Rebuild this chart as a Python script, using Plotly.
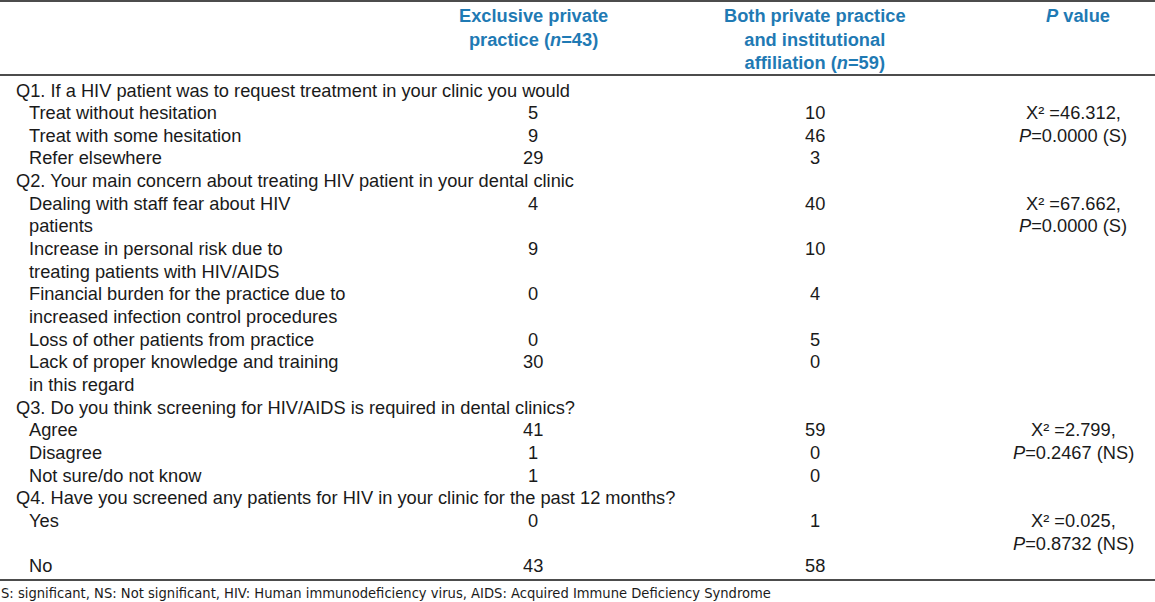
import plotly.graph_objects as go

# ---------------- data ----------------
col_headers = ["", "<b>Exclusive private<br>practice (<i>n</i>=43)</b>",
               "<b>Both private practice<br>and institutional<br>affiliation (<i>n</i>=59)</b>",
               "<b><i>P</i> value</b>"]

questions = [
    "Q1. If a HIV patient was to request treatment in your clinic you would",
    "Q2. Your main concern about treating HIV patient in your dental clinic",
    "Q3. Do you think screening for HIV/AIDS is required in dental clinics?",
    "Q4. Have you screened any patients for HIV in your clinic for the past 12 months?",
]

q1_items = ["Treat without hesitation", "Treat with some hesitation", "Refer elsewhere"]
q1_excl = [5, 9, 29]
q1_both = [10, 46, 3]

q2_items = ["Dealing with staff fear about HIV<br>patients",
            "Increase in personal risk due to<br>treating patients with HIV/AIDS",
            "Financial burden for the practice due to<br>increased infection control procedures",
            "Loss of other patients from practice",
            "Lack of proper knowledge and training<br>in this regard"]
q2_excl = [4, 9, 0, 0, 30]
q2_both = [40, 10, 4, 5, 0]

q3_items = ["Agree", "Disagree", "Not sure/do not know"]
q3_excl = [41, 1, 1]
q3_both = [59, 0, 0]

q4_items = ["Yes", "No"]
q4_excl = [0, 43]
q4_both = [1, 58]

p_values = [
    ["X² =46.312,", "<i>P</i>=0.0000 (S)"],
    ["X² =67.662,", "<i>P</i>=0.0000 (S)"],
    ["X² =2.799,", "<i>P</i>=0.2467 (NS)"],
    ["X² =0.025,", "<i>P</i>=0.8732 (NS)"],
]
p_spans_rows = [True, False, True, False]

footnote = "S: significant, NS: Not significant, HIV: Human immunodeficiency virus, AIDS: Acquired Immune Deficiency Syndrome"

sections = [
    (q1_items, q1_excl, q1_both),
    (q2_items, q2_excl, q2_both),
    (q3_items, q3_excl, q3_both),
    (q4_items, q4_excl, q4_both),
]

# ---------------- layout params ----------------
W, H = 1155, 602
FONT = "Liberation Sans, Arial, sans-serif"
TXT = "#1a1a1a"
BLUE = "#1f7ab4"
FS = 18.25
LINE_H = 22.65
BODY_TOP = 90
X_Q = 15
X_ITEM = 28
X_C1 = 533
X_C2 = 815
X_C3 = 1073
X_HDR = [533, 815, 1078]

annotations = []


def add(text, x, y, xanchor="center", color=TXT, size=FS, family=FONT, yanchor="middle"):
    annotations.append(dict(text=text, x=x, y=y, xref="x", yref="y", xanchor=xanchor,
                            yanchor=yanchor, showarrow=False, borderpad=0,
                            font=dict(family=family, size=size, color=color)))


# header
for hdr, xc in zip(col_headers[1:], X_HDR):
    add(hdr, xc, 4, color=BLUE, yanchor="top")
    annotations[-1]["align"] = "center"

k = 0
for qi, (q, (items, ex, bo)) in enumerate(zip(questions, sections)):
    add(q, X_Q, BODY_TOP + LINE_H * k, xanchor="left")
    k += 1
    start = k
    for j, (lab, a, b) in enumerate(zip(items, ex, bo)):
        lines = lab.split("<br>")
        for li, ln in enumerate(lines):
            add(ln, X_ITEM, BODY_TOP + LINE_H * (k + li), xanchor="left")
        add(str(a), X_C1, BODY_TOP + LINE_H * k)
        add(str(b), X_C2, BODY_TOP + LINE_H * k)
        n = len(lines)
        if j == 0 and not p_spans_rows[qi]:
            n = max(n, len(p_values[qi]))
        k += n
    for pi, ptxt in enumerate(p_values[qi]):
        add(ptxt, X_C3, BODY_TOP + LINE_H * (start + pi))

add(footnote, 0, 592, xanchor="left", family="DejaVu Sans Condensed, sans-serif", size=14.6)

shapes = [
    dict(type="line", xref="x", yref="y", x0=0, x1=W, y0=y, y1=y,
         line=dict(color="#111111", width=1.5))
    for y in (1, 75, 580)
]

fig = go.Figure()
fig.update_layout(
    width=W, height=H,
    margin=dict(l=0, r=0, t=0, b=0),
    paper_bgcolor="white", plot_bgcolor="white",
    xaxis=dict(range=[0, W], visible=False, fixedrange=True),
    yaxis=dict(range=[H, 0], visible=False, fixedrange=True),
    annotations=annotations,
    shapes=shapes,
    showlegend=False,
)
fig.write_html("out.html", config={"displayModeBar": False},
               post_script="document.body.style.margin='0';document.body.style.overflow='hidden';")
